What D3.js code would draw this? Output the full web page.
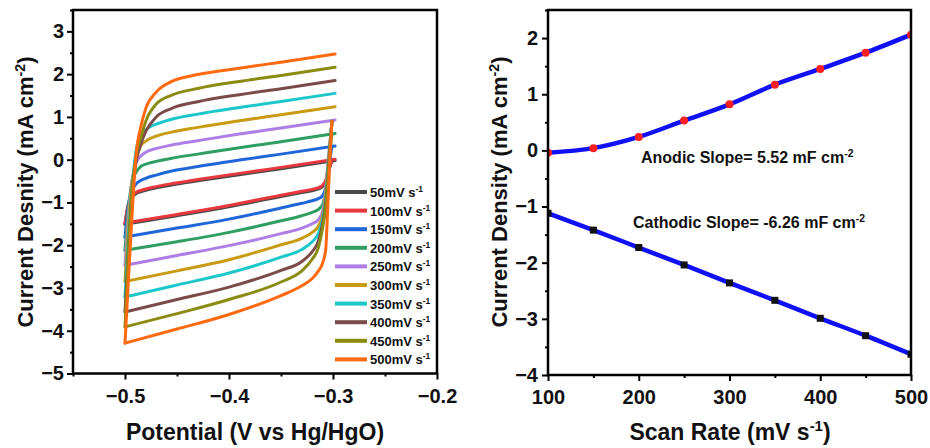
<!DOCTYPE html>
<html>
<head>
<meta charset="utf-8">
<script src="https://cdn.jsdelivr.net/npm/d3@7"></script>
<style>
body { margin: 0; background: #fff; }
svg text { font-family: "Liberation Sans", Arial, Helvetica, sans-serif; font-weight: bold; fill: #111; }
</style>
</head>
<body>
<svg id="chart" width="930" height="448"></svg>
<script>
// ---- data: CV loops (left panel) ----
var rateLabels = ["50", "100", "150", "200", "250", "300", "350", "400", "450", "500"];
var rateColors = ["#4a4a4a", "#e8383d", "#1f66d9", "#2e9e63", "#ad7ee6",
                  "#c99a14", "#1cc7c9", "#7b4b4b", "#8a8c12", "#ff6a10"];

// anodic sweep potentials (V vs Hg/HgO)
var upperV = [-0.5, -0.497, -0.493, -0.489, -0.485, -0.48, -0.47, -0.455, -0.43, -0.39, -0.35, -0.298];
var upperI = [
  [-1.51, -1.08, -0.88, -0.79, -0.75, -0.715, -0.66, -0.59, -0.495, -0.35, -0.21, -0.02],
  [-1.48, -1.05, -0.85, -0.76, -0.72, -0.685, -0.63, -0.56, -0.465, -0.32, -0.18, 0.01],
  [-1.81, -1.10, -0.72, -0.56, -0.49, -0.435, -0.36, -0.265, -0.16, -0.01, 0.13, 0.32],
  [-2.12, -1.20, -0.50, -0.28, -0.16, -0.105, -0.04, 0.035, 0.13, 0.28, 0.42, 0.61],
  [-2.47, -1.40, -0.45, -0.06, 0.08, 0.175, 0.26, 0.345, 0.445, 0.60, 0.74, 0.93],
  [-2.85, -1.60, -0.50, 0.05, 0.32, 0.435, 0.55, 0.645, 0.755, 0.91, 1.05, 1.24],
  [-3.21, -1.90, -0.60, 0.26, 0.56, 0.70, 0.83, 0.945, 1.065, 1.22, 1.36, 1.55],
  [-3.56, -2.20, -0.70, 0.00, 0.35, 0.66, 1.00, 1.20, 1.355, 1.52, 1.66, 1.85],
  [-3.91, -2.30, -0.70, 0.15, 0.50, 0.90, 1.30, 1.51, 1.665, 1.83, 1.97, 2.16],
  [-4.29, -2.95, -1.20, 0.20, 0.75, 1.20, 1.58, 1.83, 1.99, 2.14, 2.28, 2.47]
];

// cathodic sweep potentials
var lowerV = [-0.301, -0.303, -0.305, -0.307, -0.31, -0.314, -0.32, -0.33, -0.35, -0.4, -0.45, -0.5];
var lowerI = [
  [-0.02, -0.18, -0.35, -0.51, -0.63, -0.685, -0.725, -0.77, -0.86, -1.10, -1.31, -1.51],
  [0.01, -0.15, -0.32, -0.48, -0.60, -0.655, -0.695, -0.74, -0.83, -1.07, -1.28, -1.48],
  [0.32, 0.00, -0.35, -0.65, -0.84, -0.91, -0.96, -1.02, -1.13, -1.39, -1.60, -1.81],
  [0.61, 0.20, -0.25, -0.70, -1.05, -1.16, -1.23, -1.31, -1.43, -1.70, -1.92, -2.12],
  [0.90, 0.40, -0.10, -0.70, -1.20, -1.40, -1.50, -1.60, -1.73, -2.01, -2.24, -2.47],
  [0.90, 0.35, -0.20, -0.80, -1.30, -1.55, -1.70, -1.84, -1.99, -2.34, -2.60, -2.85],
  [0.90, 0.30, -0.30, -0.90, -1.40, -1.72, -1.92, -2.10, -2.28, -2.65, -2.93, -3.21],
  [0.90, 0.25, -0.40, -1.00, -1.50, -1.90, -2.15, -2.38, -2.59, -2.98, -3.27, -3.56],
  [0.90, 0.20, -0.50, -1.10, -1.60, -2.05, -2.33, -2.60, -2.86, -3.27, -3.60, -3.91],
  [0.90, 0.00, -1.10, -2.10, -2.42, -2.60, -2.78, -2.95, -3.18, -3.62, -3.96, -4.29]
];

var cvXTicks = [-0.5, -0.4, -0.3, -0.2];
var cvXMinor = [-0.55, -0.45, -0.35, -0.25];
var cvYTicks = [-5, -4, -3, -2, -1, 0, 1, 2, 3];
var cvYMinor = [-4.5, -3.5, -2.5, -1.5, -0.5, 0.5, 1.5, 2.5, 3.5];

// ---- data: current density vs scan rate (right panel) ----
var scanRate = [100, 150, 200, 250, 300, 350, 400, 450, 500];
var anodicJ = [-0.04, 0.04, 0.24, 0.53, 0.82, 1.17, 1.45, 1.74, 2.06];
var cathodicJ = [-1.12, -1.42, -1.73, -2.04, -2.36, -2.67, -2.99, -3.30, -3.63];
var srXTicks = [100, 200, 300, 400, 500];
var srXMinor = [150, 250, 350, 450];
var srYTicks = [-4, -3, -2, -1, 0, 1, 2];
var srYMinor = [-3.5, -2.5, -1.5, -0.5, 0.5, 1.5, 2.5];

var svg = d3.select("#chart");

// text with superscript parts: [[str, isSup], ...]
function richText(sel, parts, fs) {
  var shift = fs * 0.38;
  var up = false;
  parts.forEach(function(p) {
    var t = sel.append("tspan").text(p[0]);
    if (p[1]) {
      t.attr("font-size", fs * 0.65).attr("dy", -shift);
      up = true;
    } else {
      t.attr("font-size", fs);
      if (up) { t.attr("dy", shift); up = false; }
    }
  });
  return sel;
}

function drawAxes(g, x, y, o) {
  var bottom = y.range()[0];
  var left = x.range()[0];
  g.append("g")
    .attr("transform", "translate(0," + bottom + ")")
    .call(d3.axisBottom(x).tickValues(o.xt).tickSize(6).tickSizeOuter(0).tickPadding(9).tickFormat(o.xfmt))
    .call(function(a) { a.select(".domain").remove(); });
  g.append("g")
    .attr("transform", "translate(0," + bottom + ")")
    .call(d3.axisBottom(x).tickValues(o.xm).tickSize(3).tickSizeOuter(0).tickFormat(""))
    .call(function(a) { a.select(".domain").remove(); });
  g.append("g")
    .attr("transform", "translate(" + left + ",0)")
    .call(d3.axisLeft(y).tickValues(o.yt).tickSize(6).tickSizeOuter(0).tickPadding(o.ypad).tickFormat(d3.format("d")))
    .call(function(a) { a.select(".domain").remove(); });
  g.append("g")
    .attr("transform", "translate(" + left + ",0)")
    .call(d3.axisLeft(y).tickValues(o.ym).tickSize(3).tickSizeOuter(0).tickFormat(""))
    .call(function(a) { a.select(".domain").remove(); });
  g.selectAll(".tick line").attr("stroke", "#000").attr("stroke-width", 2);
  g.selectAll(".tick text").attr("font-size", 20).attr("fill", "#111")
    .style("font-family", "'Liberation Sans', Arial, sans-serif").style("font-weight", "bold");
  // frame
  g.append("rect")
    .attr("x", left).attr("y", y.range()[1])
    .attr("width", x.range()[1] - left).attr("height", bottom - y.range()[1])
    .attr("fill", "none").attr("stroke", "#000").attr("stroke-width", 2.5);
}

// ================= left panel =================
var x1 = d3.scaleLinear().domain([-0.55, -0.2]).range([73, 437]);
var y1 = d3.scaleLinear().domain([-5, 3.5]).range([373.5, 10]);
var gL = svg.append("g");

var cvLine = d3.line()
  .x(function(d) { return x1(d[0]); })
  .y(function(d) { return y1(d[1]); })
  .curve(d3.curveMonotoneX);

rateLabels.forEach(function(r, i) {
  var up = upperV.map(function(v, k) { return [v, upperI[i][k]]; });
  var lo = lowerV.map(function(v, k) { return [v, lowerI[i][k]]; }).reverse();
  [up, lo].forEach(function(pts) {
    gL.append("path")
      .attr("d", cvLine(pts))
      .attr("fill", "none")
      .attr("stroke", rateColors[i])
      .attr("stroke-width", 3)
      .attr("stroke-linejoin", "round")
      .attr("stroke-linecap", "round");
  });
});

drawAxes(gL, x1, y1, { xt: cvXTicks, xm: cvXMinor, yt: cvYTicks, ym: cvYMinor, ypad: 3, xfmt: d3.format(".1f") });

// legend
var legend = gL.append("g");
rateLabels.forEach(function(r, i) {
  var ly = 192 + i * 18.6;
  legend.append("line")
    .attr("x1", 335).attr("x2", 367).attr("y1", ly).attr("y2", ly)
    .attr("stroke", rateColors[i]).attr("stroke-width", 4);
  var t = legend.append("text").attr("x", 370).attr("y", ly + 5);
  richText(t, [[r + "mV s", false], ["-1", true]], 13);
});

// axis titles
var tl = gL.append("text").attr("text-anchor", "middle").attr("transform", "translate(33,192) rotate(-90)");
richText(tl, [["Current Desnity (mA cm", false], ["-2", true], [")", false]], 22);
gL.append("text").attr("text-anchor", "middle").attr("x", 255).attr("y", 440)
  .attr("font-size", 23).text("Potential (V vs Hg/HgO)");

// ================= right panel =================
var x2 = d3.scaleLinear().domain([100, 500]).range([548, 911]);
var y2 = d3.scaleLinear().domain([-4, 2.5]).range([375, 10]);
var gR = svg.append("g");

svg.append("defs").append("clipPath").attr("id", "clipR")
  .append("rect").attr("x", 548).attr("y", 10).attr("width", 363).attr("height", 365);

var plotR = gR.append("g").attr("clip-path", "url(#clipR)");
var srLine = d3.line()
  .x(function(d, i) { return x2(scanRate[i]); })
  .y(function(d) { return y2(d); })
  .curve(d3.curveMonotoneX);

[anodicJ, cathodicJ].forEach(function(s) {
  plotR.append("path").attr("d", srLine(s))
    .attr("fill", "none").attr("stroke", "#1010f5").attr("stroke-width", 4.5);
});

plotR.selectAll("circle.an").data(anodicJ).enter().append("circle")
  .attr("cx", function(d, i) { return x2(scanRate[i]); })
  .attr("cy", function(d) { return y2(d); })
  .attr("r", 4).attr("fill", "#ff1f1f");

plotR.selectAll("rect.ca").data(cathodicJ).enter().append("rect")
  .attr("x", function(d, i) { return x2(scanRate[i]) - 3.5; })
  .attr("y", function(d) { return y2(d) - 3.5; })
  .attr("width", 7).attr("height", 7).attr("fill", "#111");

drawAxes(gR, x2, y2, { xt: srXTicks, xm: srXMinor, yt: srYTicks, ym: srYMinor, ypad: 4, xfmt: d3.format("d") });

var ta = gR.append("text").attr("x", 641).attr("y", 163);
richText(ta, [["Anodic Slope= 5.52 mF cm", false], ["-2", true]], 16);
var tc = gR.append("text").attr("x", 633).attr("y", 228);
richText(tc, [["Cathodic Slope= -6.26 mF cm", false], ["-2", true]], 16);

var tr = gR.append("text").attr("text-anchor", "middle").attr("transform", "translate(507,192) rotate(-90)");
richText(tr, [["Current Density (mA cm", false], ["-2", true], [")", false]], 22);
var tx = gR.append("text").attr("text-anchor", "middle").attr("x", 730).attr("y", 440);
richText(tx, [["Scan Rate (mV s", false], ["-1", true], [")", false]], 23);
</script>
</body>
</html>
